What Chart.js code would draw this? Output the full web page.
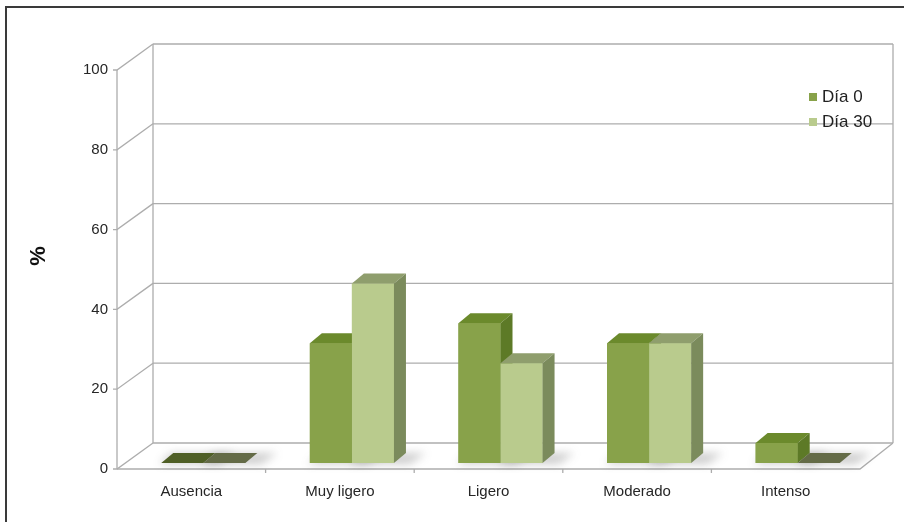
<!DOCTYPE html>
<html>
<head>
<meta charset="utf-8">
<script src="https://cdn.jsdelivr.net/npm/chart.js@4/dist/chart.umd.min.js"></script>
<style>
  html, body { margin: 0; padding: 0; background: #ffffff; }
  #wrap { width: 904px; height: 522px; position: relative; }
</style>
</head>
<body>
<div id="wrap"><canvas id="c" width="904" height="522"></canvas></div>
<script>
// ---- data ----
const categories = ['Ausencia', 'Muy ligero', 'Ligero', 'Moderado', 'Intenso'];
const dia0 = [0, 30, 35, 30, 5];
const dia30 = [0, 45, 25, 30, 0];
const seriesNames = ['Día 0', 'Día 30'];
const yMin = 0;
const yMax = 100;
const yStep = 20;
const yTitle = '%';

// ---- styles ----
const FONT = '"Liberation Sans", Arial, sans-serif';
const faceColors = [
  { front: '#88a24a', top: '#6b8a2c', side: '#5d7a27', zeroTop: '#4f5f26' },
  { front: '#b9cb8d', top: '#8f9e6d', side: '#7b8b5c', zeroTop: '#646b47' }
];
const WALL_DX = 36, WALL_DY = -26;   // back wall offset
const BAR_DX = 12, BAR_DY = -6;      // bar plane offset
const DEPTH_DX = 12, DEPTH_DY = -10; // bar depth
const LINE = '#adadad';

function poly(ctx, pts, color) {
  ctx.beginPath();
  ctx.moveTo(pts[0][0], pts[0][1]);
  for (let i = 1; i < pts.length; i++) ctx.lineTo(pts[i][0], pts[i][1]);
  ctx.closePath();
  ctx.fillStyle = color;
  ctx.fill();
}

const threeD = {
  id: 'threeD',
  beforeDraw(chart) {
    const ctx = chart.ctx;
    ctx.save();
    ctx.fillStyle = '#ffffff';
    ctx.fillRect(0, 0, chart.width, chart.height);
    ctx.strokeStyle = '#3a3a3a';
    ctx.lineWidth = 2;
    ctx.beginPath();
    ctx.moveTo(6, 522); ctx.lineTo(6, 7); ctx.lineTo(904, 7);
    ctx.stroke();
    ctx.restore();
  },
  beforeDatasetsDraw(chart) {
    const ctx = chart.ctx;
    const ca = chart.chartArea;
    const ys = chart.scales.y;
    const xs = chart.scales.x;
    ctx.save();
    ctx.strokeStyle = LINE;
    ctx.lineWidth = 1.3;
    const bx0 = ca.left + WALL_DX, bx1 = ca.right + WALL_DX - 3;
    ys.ticks.forEach(t => {
      const y = ys.getPixelForValue(t.value);
      ctx.beginPath();
      ctx.moveTo(bx0, y + WALL_DY); ctx.lineTo(bx1, y + WALL_DY);
      ctx.moveTo(ca.left - 4, y); ctx.lineTo(ca.left, y); ctx.lineTo(bx0, y + WALL_DY);
      ctx.stroke();
    });
    const yTop = ys.getPixelForValue(yMax), yBot = ys.getPixelForValue(yMin);
    ctx.beginPath();
    ctx.moveTo(bx0, yTop + WALL_DY); ctx.lineTo(bx0, yBot + WALL_DY);
    ctx.moveTo(bx1, yTop + WALL_DY); ctx.lineTo(bx1, yBot + WALL_DY);
    ctx.moveTo(ca.left, yTop); ctx.lineTo(ca.left, yBot);
    ctx.moveTo(ca.left, yBot); ctx.lineTo(ca.right, yBot); ctx.lineTo(bx1, yBot + WALL_DY);
    ctx.stroke();
    for (let i = 1; i < categories.length; i++) {
      const x = (xs.getPixelForValue(i - 1) + xs.getPixelForValue(i)) / 2;
      ctx.beginPath();
      ctx.moveTo(x, yBot); ctx.lineTo(x, yBot + 4);
      ctx.stroke();
    }
    ctx.restore();

    ctx.save();
    ctx.translate(BAR_DX, BAR_DY);
    ctx.save();
    ctx.filter = 'blur(4px)';
    chart.data.datasets.forEach((ds, di) => {
      chart.getDatasetMeta(di).data.forEach(el => {
        const l = el.x - el.width / 2, r = el.x + el.width / 2;
        poly(ctx, [[l - 2, el.base + 1], [r + 16, el.base + 1], [r + 32, el.base - 10], [l + 10, el.base - 10]], 'rgba(60,60,60,0.25)');
      });
    });
    ctx.restore();
  },
  afterDatasetsDraw(chart) {
    const ctx = chart.ctx;
    for (let i = 0; i < categories.length; i++) {
      chart.data.datasets.forEach((ds, di) => {
        const el = chart.getDatasetMeta(di).data[i];
        const c = faceColors[di];
        el.draw(ctx, chart.chartArea);
        const l = el.x - el.width / 2, r = el.x + el.width / 2;
        const top = el.y, base = el.base;
        const zero = Math.abs(base - top) < 0.5;
        poly(ctx, [[l, top], [r, top], [r + DEPTH_DX, top + DEPTH_DY], [l + DEPTH_DX, top + DEPTH_DY]], zero ? c.zeroTop : c.top);
        if (!zero) {
          poly(ctx, [[r, top], [r + DEPTH_DX, top + DEPTH_DY], [r + DEPTH_DX, base + DEPTH_DY], [r, base]], c.side);
        }
      });
    }
    ctx.restore();
  },
  afterDraw(chart) {
    const ctx = chart.ctx;
    ctx.save();
    ctx.font = '17px ' + FONT;
    ctx.textBaseline = 'middle';
    ctx.textAlign = 'left';
    chart.data.datasets.forEach((ds, i) => {
      const y = 97 + i * 25;
      ctx.fillStyle = ds.backgroundColor;
      ctx.fillRect(809, y - 4, 8, 8);
      ctx.fillStyle = '#222222';
      ctx.fillText(ds.label, 822, y);
    });
    ctx.translate(39, 256);
    ctx.rotate(-Math.PI / 2);
    ctx.textAlign = 'center';
    ctx.textBaseline = 'middle';
    ctx.font = 'bold 22px ' + FONT;
    ctx.fillStyle = '#111111';
    ctx.fillText(yTitle, 0, 0);
    ctx.restore();
  }
};

new Chart(document.getElementById('c'), {
  type: 'bar',
  data: {
    labels: categories,
    datasets: [
      { label: seriesNames[0], data: dia0, backgroundColor: faceColors[0].front, borderWidth: 0, clip: false },
      { label: seriesNames[1], data: dia30, backgroundColor: faceColors[1].front, borderWidth: 0, clip: false }
    ]
  },
  options: {
    responsive: false,
    animation: false,
    devicePixelRatio: 1,
    layout: { padding: { left: 0, right: 44, top: 70, bottom: 0 } },
    datasets: { bar: { barPercentage: 1, categoryPercentage: 0.566 } },
    plugins: { legend: { display: false }, tooltip: { enabled: false } },
    scales: {
      x: {
        grid: { display: false, drawTicks: false },
        border: { display: false },
        ticks: { color: '#262626', font: { family: FONT, size: 15 }, padding: 14, maxRotation: 0 },
        afterFit(s) { s.height = 53; }
      },
      y: {
        min: yMin, max: yMax,
        grid: { display: false, drawTicks: false },
        border: { display: false },
        ticks: { stepSize: yStep, color: '#262626', font: { family: FONT, size: 15 }, padding: 9 },
        title: { display: false, text: yTitle },
        afterFit(s) { s.width = 117; }
      }
    }
  },
  plugins: [threeD]
});
</script>
</body>
</html>
